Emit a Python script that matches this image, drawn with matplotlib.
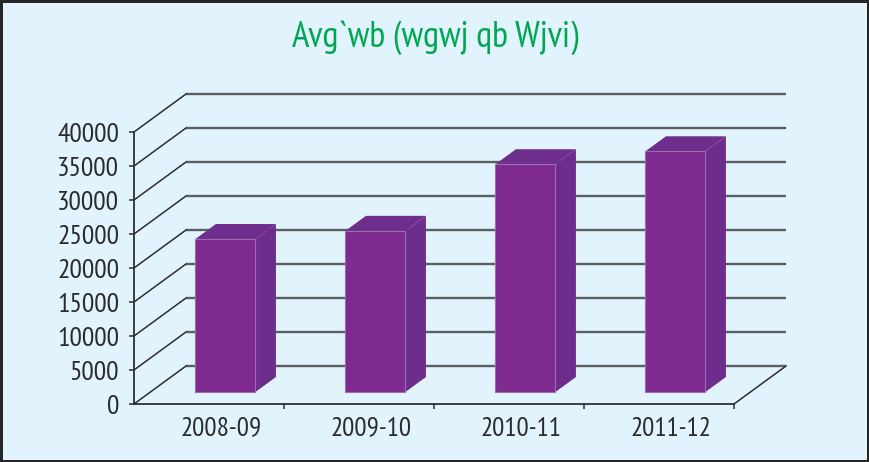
import matplotlib
matplotlib.use('Agg')
import matplotlib.pyplot as plt
from matplotlib.patches import Polygon, Rectangle
from matplotlib.transforms import ScaledTranslation


years = ['2008-09', '2009-10', '2010-11', '2011-12']
imports = [22500, 23700, 33500, 35400]
y_ticks = [0, 5000, 10000, 15000, 20000, 25000, 30000, 35000, 40000]
title = 'Avg`wb (wgwj qb Wjvi)'

FONT = ['PT Sans Narrow', 'DejaVu Sans']
BG = '#e1f3fd'
FRONT = '#7f2a8e'
SIDE = '#6c2d8c'
TOP = '#6e2e8c'
EDGE = '#9a6cb2'

# oblique depth of the wall, in data units (category / value)
DX = 52 / 150
DY = 38 / 272 * 40000
F0, F1 = 0.316, 0.71   # front and back depth of the bars
BAR_W = 0.4


def shift(x, y, f):
    return (x + DX * f, y + DY * f)


fig = plt.figure(figsize=(8.69, 4.62), dpi=100)
fig.patch.set_facecolor(BG)
ax = fig.add_axes([134 / 869, 58 / 462, 600 / 869, 272 / 462])
ax.set_facecolor('none')
ax.set_xlim(0, len(years))
ax.set_ylim(0, 40000)

# back wall and left side gridlines
for y in y_ticks:
    ax.plot([DX, len(years) + DX], [y + DY, y + DY], color='#5b5f64',
            lw=1.7, clip_on=False, zorder=1, solid_capstyle='butt')
    ax.plot([0, DX], [y, y + DY], color='#2e2e2e', lw=1.1,
            clip_on=False, zorder=1)
ax.plot([len(years), len(years) + DX], [0, DY], color='#2e2e2e', lw=1.1,
        clip_on=False, zorder=1)

# bars
for i, v in enumerate(imports):
    x0 = i + 0.5 - BAR_W / 2
    x1 = i + 0.5 + BAR_W / 2
    front = [shift(x0, 0, F0), shift(x1, 0, F0), shift(x1, v, F0), shift(x0, v, F0)]
    side = [shift(x1, 0, F0), shift(x1, 0, F1), shift(x1, v, F1), shift(x1, v, F0)]
    top = [shift(x0, v, F0), shift(x1, v, F0), shift(x1, v, F1), shift(x0, v, F1)]
    ax.add_patch(Polygon(side, closed=True, facecolor=SIDE, edgecolor='none',
                         clip_on=False, zorder=3))
    ax.add_patch(Polygon(top, closed=True, facecolor=TOP, edgecolor='none',
                         clip_on=False, zorder=3))
    ax.add_patch(Polygon(front, closed=True, facecolor=FRONT, edgecolor=EDGE,
                         lw=0.8, clip_on=False, zorder=4))

# axes styling
for side_name in ['top', 'right']:
    ax.spines[side_name].set_visible(False)
for side_name in ['left', 'bottom']:
    ax.spines[side_name].set_color('#2e2e2e')
    ax.spines[side_name].set_linewidth(1.3)
    ax.spines[side_name].set_zorder(5)

ax.set_yticks(y_ticks)
ax.set_yticklabels([str(t) for t in y_ticks])
ax.tick_params(axis='y', direction='out', length=3.6, width=1.1,
               color='#2e2e2e', pad=7, labelsize=20, labelcolor='#2b2b2b')

ax.set_xticks([i + 0.5 for i in range(len(years))])
ax.set_xticklabels(years)
ax.set_xticks(range(1, len(years) + 1), minor=True)
ax.tick_params(axis='x', which='major', length=0, pad=9,
               labelsize=19.5, labelcolor='#2b2b2b')
ax.tick_params(axis='x', which='minor', direction='out', length=3.6,
               width=1.1, color='#2e2e2e')
offset = ScaledTranslation(12 / 100, 0, fig.dpi_scale_trans)
for lab in ax.get_xticklabels() + ax.get_yticklabels():
    lab.set_family(FONT)
for lab in ax.get_xticklabels():
    lab.set_transform(lab.get_transform() + offset)

fig.text(435 / 869, 1 - 47 / 462, title, ha='center', va='baseline',
         fontsize=26.5, color='#00a651', family=FONT)

fig.add_artist(Rectangle((0, 0), 1, 1, transform=fig.transFigure,
                         fill=False, edgecolor='#262626', lw=3.6))

fig.savefig('out.png', dpi=100, facecolor=BG)
